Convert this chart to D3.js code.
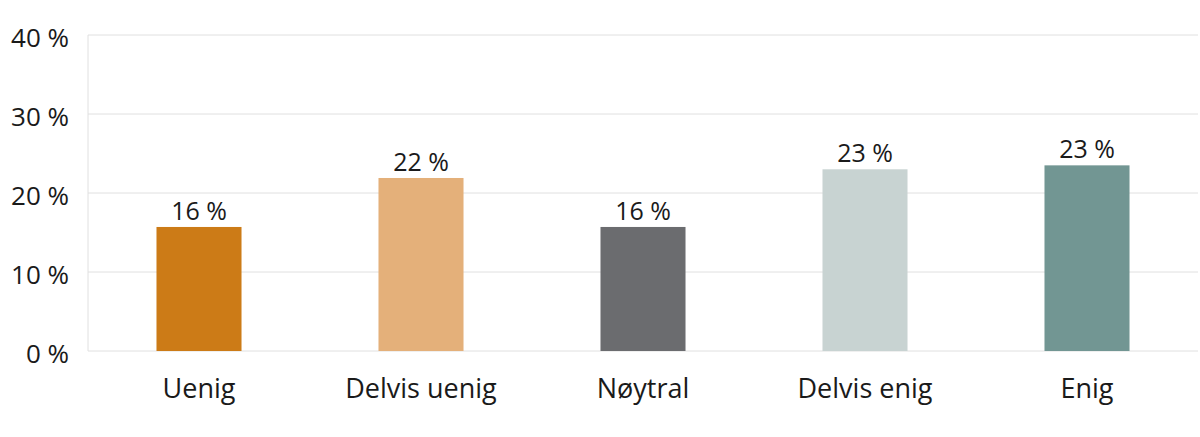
<!DOCTYPE html>
<html>
<head>
<meta charset="utf-8">
<script src="https://cdn.jsdelivr.net/npm/d3@7"></script>
<style>
body{margin:0;background:#fff;}
svg{display:block;font-family:"Open Sans",sans-serif;}
</style>
</head>
<body>
<svg id="chart" width="1200" height="437"></svg>
<script>
const categories = ["Uenig","Delvis uenig","Nøytral","Delvis enig","Enig"];
const values = [15.7, 21.9, 15.7, 23.0, 23.5];
const labels = ["16 %","22 %","16 %","23 %","23 %"];
const colors = ["#CC7B17","#E4B07A","#6B6C6F","#C8D3D2","#729693"];
const yTicks = [0,10,20,30,40];

const svg = d3.select("#chart");
const margin = {left:88, right:2, top:35, bottom:86};
const W = 1200, H = 437;
const x = d3.scaleBand().domain(categories).range([margin.left, W-margin.right]).paddingInner(0.617).paddingOuter(0.3085);
const y = d3.scaleLinear().domain([0,40]).range([H-margin.bottom, margin.top]);

// gridlines
svg.append("g").selectAll("line").data(yTicks).join("line")
  .attr("x1", margin.left).attr("x2", W-margin.right)
  .attr("y1", d=>y(d)).attr("y2", d=>y(d))
  .attr("stroke","#e0e0e0").attr("stroke-width",1);
// left axis line
svg.append("line").attr("x1",margin.left).attr("x2",margin.left)
  .attr("y1",y(40)).attr("y2",y(0)).attr("stroke","#e0e0e0");

// y axis labels
const yAxis = d3.axisLeft(y).tickValues(yTicks).tickFormat(d=>d+" %").tickSize(0).tickPadding(19);
const gy = svg.append("g").attr("transform",`translate(${margin.left},0)`).call(yAxis);
gy.select(".domain").remove();
gy.selectAll("text").attr("font-size",26).attr("dy","0.45em").attr("fill","#1a1a1a").attr("font-family","Open Sans, sans-serif");

// x axis labels
const xAxis = d3.axisBottom(x).tickSize(0).tickPadding(28);
const gx = svg.append("g").attr("transform",`translate(0,${y(0)})`).call(xAxis);
gx.select(".domain").remove();
gx.selectAll("text").attr("font-size",27).attr("fill","#1a1a1a").attr("font-family","Open Sans, sans-serif");

// bars
svg.append("g").selectAll("rect").data(values).join("rect")
  .attr("x",(d,i)=>x(categories[i]))
  .attr("width",x.bandwidth())
  .attr("y",d=>y(d))
  .attr("height",d=>y(0)-y(d))
  .attr("fill",(d,i)=>colors[i]);

// value labels
svg.append("g").selectAll("text").data(values).join("text")
  .attr("x",(d,i)=>x(categories[i])+x.bandwidth()/2)
  .attr("y",d=>y(d)-7)
  .attr("text-anchor","middle")
  .attr("font-size",25)
  .attr("fill","#1a1a1a")
  .text((d,i)=>labels[i]);
</script>
</body>
</html>
